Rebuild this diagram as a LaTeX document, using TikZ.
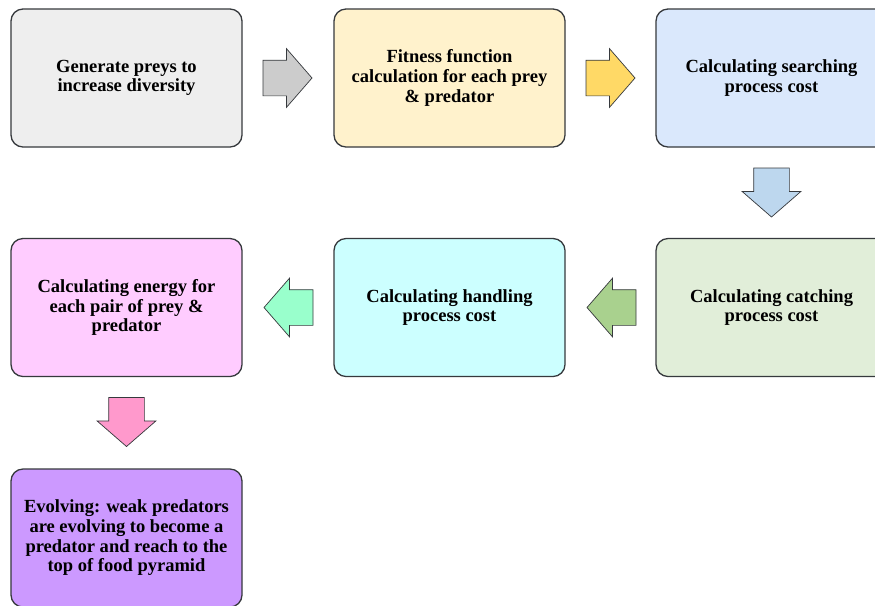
\documentclass[tikz,border=0pt]{standalone}
\usepackage{fontspec}
\setmainfont{Liberation Serif}
\usepackage{xcolor}
\usetikzlibrary{shapes.arrows,calc}
\definecolor{Line}{HTML}{36393d}
\definecolor{B0}{HTML}{eeeeee}
\definecolor{B1}{HTML}{fff2cc}
\definecolor{B2}{HTML}{dae8fc}
\definecolor{B3}{HTML}{e1eed9}
\definecolor{B4}{HTML}{ccffff}
\definecolor{B5}{HTML}{ffccff}
\definecolor{B6}{HTML}{cc99ff}
\definecolor{A0}{HTML}{cccccc}
\definecolor{A1}{HTML}{ffd966}
\definecolor{A2}{HTML}{bdd7ee}
\definecolor{A3}{HTML}{a9d18e}
\definecolor{A4}{HTML}{99ffcc}
\definecolor{A5}{HTML}{ff99cc}
\tikzset{
  stagebox/.style={draw=Line, line width=1.1pt, rounded corners=0.36cm, minimum width=6.93cm, minimum height=4.14cm, align=center, inner sep=2pt, font=\bfseries\fontsize{15.8}{16.8}\selectfont},
  flowarrow/.style={single arrow, draw=Line, line width=0.6pt, minimum height=1.47cm, inner xsep=0pt, inner ysep=0.525cm, single arrow head extend=0.345cm, single arrow tip angle=98, anchor=tail}
}

\begin{document}
\begin{tikzpicture}[x=0.03cm, y=-0.03cm]%
\fill[white] (0,0) rectangle (875,605);%
\useasboundingbox (0,0) rectangle (875,605);%
\node[stagebox, fill=B0] (gen) at (126.5,78) {Generate preys to\\increase diversity};%
\node[stagebox, fill=B1] (fit) at (449.5,78) {Fitness function\\calculation for each prey\\\& predator};%
\node[stagebox, fill=B2] (search) at (771.5,78) {Calculating searching\\process cost};%
\node[stagebox, fill=B3] (catch) at (771.5,307.5) {Calculating catching\\process cost};%
\node[stagebox, fill=B4] (handle) at (449.5,307.5) {Calculating handling\\process cost};%
\node[stagebox, fill=B5] (energy) at (126.5,307.5) {Calculating energy for\\each pair of prey \&\\predator};%
\node[stagebox, fill=B6] (evolve) at (126.5,538) {Evolving: weak predators\\are evolving to become a\\predator and reach to the\\top of food pyramid};%
% block arrows between the stages
\node[flowarrow, fill=A0] (a1) at ($(gen.east)+(20,0)$) {};%
\node[flowarrow, fill=A1] (a2) at ($(fit.east)+(20,0)$) {};%
\node[flowarrow, fill=A2, rotate=-90] (a3) at ($(search.south)+(0,20)$) {};%
\node[flowarrow, fill=A3, rotate=180] (a4) at ($(catch.west)+(-19,0)$) {};%
\node[flowarrow, fill=A4, rotate=180] (a5) at ($(handle.west)+(-20,0)$) {};%
\node[flowarrow, fill=A5, rotate=-90] (a6) at ($(energy.south)+(0,20)$) {};%
\end{tikzpicture}
\end{document}
